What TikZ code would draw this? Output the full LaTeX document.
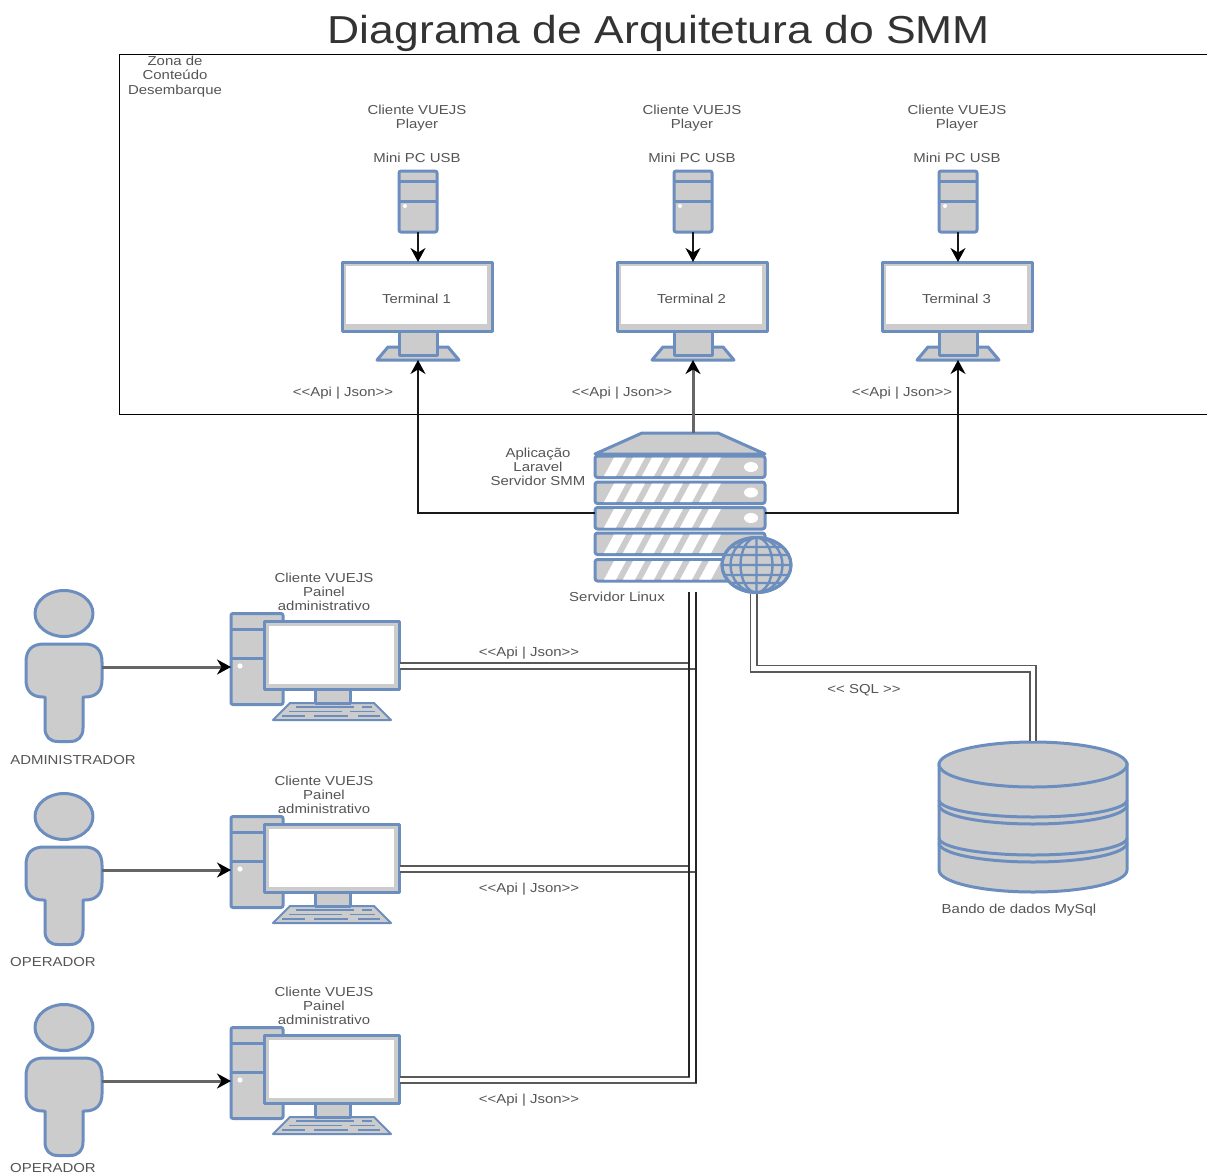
\documentclass[tikz,border=0pt]{standalone}
\usepackage{fontspec}
\setmainfont{Liberation Sans}
\newfontfamily\labfont[FakeStretch=1.15]{Liberation Sans}
\newfontfamily\titlefont[FakeStretch=1.14]{Liberation Sans}
\usetikzlibrary{arrows.meta}
\definecolor{shapeblue}{HTML}{6C8EBF}
\definecolor{shapegray}{HTML}{CCCCCC}
\definecolor{labgray}{HTML}{555555}
\tikzset{
  shp/.style={draw=shapeblue,fill=shapegray,line width=3pt,line join=round},
  lab/.style={inner sep=0pt,outer sep=0pt,yshift=-0.8pt,text=labgray,align=center,font=\labfont\fontsize{13}{14.4}\selectfont},
  box/.style={inner sep=0pt,outer sep=0pt,rectangle},
  arr/.style={-{Stealth[length=14pt,width=15pt,black]},line width=1.5pt,draw=black!90},
  grayarr/.style={-{Stealth[length=14pt,width=15pt,black]},line width=3pt,draw=black!60},
  link/.style={draw=black!65,line width=1.8pt,double=white,double distance=4.4pt,line join=miter},
  rail/.style={draw=black!85,line width=2pt},
}
\newcommand{\terminalunit}[3]{% name, cx, text
  \draw[shp] (#2-41,360) -- (#2-30,347) -- (#2+30,347) -- (#2+41,360) -- cycle;
  \node[box,shp,minimum width=38pt,minimum height=26pt] at (#2,342) {};
  \node[box,shp,minimum width=150pt,minimum height=69pt] (#1) at (#2-0.5,296.5) {};
  \fill[white] (#2-72,266) rectangle (#2+69,324);
  \node[lab] at (#2-1.5,298) {#3};
  \coordinate (#1base) at (#2,360);
  \node[box,shp,rounded corners=2pt,minimum width=38pt,minimum height=61pt] (#1pc) at (#2,201.5) {};
  \draw[shp,fill=none] (#2-19,181) -- (#2+19,181) (#2-19,201) -- (#2+19,201);
  \fill[white] (#2-13,206) circle (2);
  \node[lab] at (#2-1,117.5) {Cliente VUEJS\\Player};
  \node[lab] at (#2-1,157) {Mini PC USB};
  \draw[arr] (#1pc.south) -- (#1pc.south |- #1.north);
}
\newcommand{\serverunit}[2]{% name, top y
  \node[box,shp,rounded corners=2.5pt,minimum width=170pt,minimum height=21.5pt,anchor=north west] (#1) at (595,#2) {};
  \foreach \k in {0,...,5}{
    \fill[white] (604+19*\k,#2+20) -- (616+19*\k,#2+20) -- (626+19*\k,#2+1.5) -- (614+19*\k,#2+1.5) -- cycle;
  }
}
\newcommand{\personunit}[2]{% name, y offset
  \begin{scope}[yshift=-#2pt]
    \draw[shp] (64,613.5) ellipse (29 and 23);
    \draw[shp] (44,644) -- (84,644) .. controls (96,644) and (102,650) .. (102,662) -- (102,680) .. controls (102,691) and (96,697) .. (85,697) -- (83,697) -- (83,728) .. controls (83,737) and (78,741.5) .. (70,741.5) -- (58,741.5) .. controls (50,741.5) and (45,737) .. (45,728) -- (45,697) -- (43,697) .. controls (32,697) and (26,691) .. (26,680) -- (26,662) .. controls (26,650) and (32,644) .. (44,644) -- cycle;
    \coordinate (#1) at (102,667);
  \end{scope}
}
\newcommand{\workunit}[2]{% name, y offset
  \begin{scope}[yshift=-#2pt]
    \node[box,shp,rounded corners=2pt,minimum width=52pt,minimum height=91pt] (#1tower) at (257,659) {};
    \draw[shp,fill=none] (231,629) -- (283,629) (231,658) -- (283,658);
    \fill[white] (240,666) circle (2.6);
    \draw[shp,line width=2pt] (273,720) -- (290,703) -- (374,703) -- (391,720) -- cycle;
    \draw[shapeblue,line width=1.8pt] (296,707) -- (354,707) (362,707) -- (372,707) (289,711.5) -- (342,711.5) (350,711.5) -- (375,711.5) (282,716) -- (305,716) (314,716) -- (348,716) (358,716) -- (380,716);
    \node[box,shp,minimum width=35pt,minimum height=14pt] at (332.5,696) {};
    \node[box,shp,minimum width=135pt,minimum height=68pt] (#1) at (332,655.5) {};
    \fill[white] (268.5,625.5) rectangle (393.5,684);
    \coordinate (#1out) at (400,666);
    \coordinate (#1in) at (231,667);
    \node[lab] at (324,591) {Cliente VUEJS\\Painel\\administrativo};
  \end{scope}
}
\begin{document}
\begin{tikzpicture}[x=1pt,y=-1pt]
\useasboundingbox (0,0) rectangle (1207,1175);
\fill[white] (0,0) rectangle (1207,1175);

\node[inner sep=0pt,text=black!80,font=\titlefont\fontsize{39}{41}\selectfont] (title) at (659,33.5) {Diagrama de Arquitetura do SMM};

\draw[black,line width=1.1pt] (1207,54.5) -- (119.5,54.5) -- (119.5,414.5) -- (1207,414.5);
\node[lab] (zona) at (175,75.5) {Zona de\\Conteúdo\\Desembarque};

\terminalunit{ta}{418}{Terminal 1}
\terminalunit{tb}{693}{Terminal 2}
\terminalunit{tc}{958}{Terminal 3}

% server
\coordinate (srvtop) at (693,433);
\coordinate (srvleft) at (595,513);
\coordinate (srvright) at (765,513);
\draw[shp] (595,454) -- (642,433) -- (718,433) -- (765,454) -- cycle;
\serverunit{sa}{456}
\serverunit{sb}{482}
\serverunit{sc}{507.5}
\serverunit{sd}{533}
\serverunit{se}{559.5}
\foreach \yy in {467,492.5,518}{\fill[white] (751,\yy) ellipse (7 and 5);}
\draw[shp] (756.5,565) ellipse (34.5 and 27.5);
\begin{scope}
  \clip (756.5,565) ellipse (34.5 and 27.5);
  \draw[shapeblue,line width=2.4pt] (756.5,565) ellipse (16 and 27.5) (756.5,565) ellipse (26 and 27.5) (722,565) -- (791,565) (756.5,537) -- (756.5,593)
    (722,555) -- (791,555) (722,575) -- (791,575) (722,547) -- (791,547) (722,583) -- (791,583);
\end{scope}
\draw[shapeblue,line width=3pt] (756.5,565) ellipse (34.5 and 27.5);
\coordinate (srvdown) at (692.5,592);
\coordinate (srvdb) at (753.5,594);

\draw[arr,line width=1.4pt] (srvleft) -| (tabase);
\draw[arr,line width=1.4pt] (srvright) -| (tcbase);
\draw[grayarr] (srvtop) -- (tbbase);

\node[lab] at (343,392) {<{}<Api | Json>{}>};
\node[lab] at (622,392) {<{}<Api | Json>{}>};
\node[lab] at (902,392) {<{}<Api | Json>{}>};
\node[lab] at (538,466) {Aplicação\\Laravel\\Servidor SMM};
\node[lab] at (617,596) {Servidor Linux};

% people and workstations
\personunit{pa}{0}
\personunit{pb}{203}
\personunit{pc}{414}
\workunit{wa}{0}
\workunit{wb}{203}
\workunit{wc}{414}
\draw[grayarr] (pa) -- (wain);
\draw[grayarr] (pb) -- (wbin);
\draw[grayarr] (pc) -- (wcin);
\node[lab] at (73,759) {ADMINISTRADOR};
\node[lab] at (53,961) {OPERADOR};
\node[lab] at (53,1167.5) {OPERADOR};

% links to the server
\draw[link] (wcout) -| (srvdown);
\draw[link] (wbout) -| (srvdown);
\draw[link] (waout) -| (srvdown);
\draw[rail] (689,592) -- (689,1077);
\draw[rail] (696,592) -- (696,1083);
\node[lab] at (529,652) {<{}<Api | Json>{}>};
\node[lab] at (529,888) {<{}<Api | Json>{}>};
\node[lab] at (529,1099) {<{}<Api | Json>{}>};

% database
\draw[shp] (939,763) -- (939,870) arc[start angle=180,end angle=0,x radius=94,y radius=22] -- (1127,763) -- cycle;
\draw[shp,fill=none] (939,800) arc[start angle=180,end angle=0,x radius=94,y radius=17];
\draw[shp,fill=none] (939,805) arc[start angle=180,end angle=0,x radius=94,y radius=19];
\draw[shp,fill=none] (939,838) arc[start angle=180,end angle=0,x radius=94,y radius=17];
\draw[shp,fill=none] (939,843) arc[start angle=180,end angle=0,x radius=94,y radius=19];
\draw[shp] (1033,764.5) ellipse (94 and 22.5);
\coordinate (dbtop) at (1033,741);
\draw[link] (srvdb) |- (1033,668.5) -- (dbtop);
\node[lab] at (864,689) {<{}< SQL >{}>};
\node[lab] at (1019,909) {Bando de dados MySql};
\end{tikzpicture}
\end{document}
